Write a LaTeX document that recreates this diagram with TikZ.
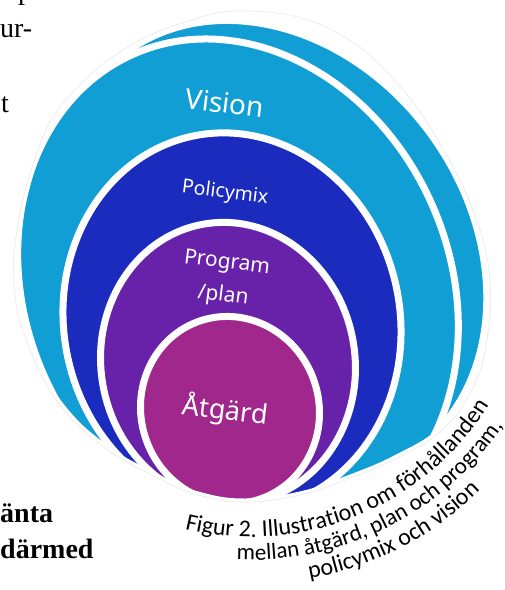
\documentclass[tikz,border=0pt]{standalone}
\usepackage{fontspec}
\usepackage{tikz}
\usetikzlibrary{decorations.text}
\setmainfont{Liberation Serif}
\newfontfamily\labelfont{Noto Sans}
\newfontfamily\capfont{Carlito}
\definecolor{visionblue}{RGB}{16,158,212}
\definecolor{policyblue}{RGB}{27,43,190}
\definecolor{planpurple}{RGB}{104,34,170}
\definecolor{actmagenta}{RGB}{160,40,140}
\newcommand{\figoutline}{plot[smooth cycle, tension=0.7] coordinates {(250,11) (330,29) (398,84) (449,160) (480,230) (490,285) (487,340) (473,388) (442,430) (397,458) (348,479) (300,495) (245,502) (198,495) (158,478) (105,448) (60,405) (31,352) (15,295) (17,230) (38,150) (66,100) (120,52) (185,22)}}

\begin{document}
\begin{tikzpicture}[x=1pt, y=-1pt,
    band/.style={fill=#1, draw=white, line width=7pt},
    lbl/.style={text=white, rotate=-7, align=center, inner sep=0pt},
    frag/.style={anchor=base west, inner sep=0pt, font=\fontsize{28}{34}\selectfont},
    captext/.style 2 args={decorate, decoration={text along path, text={|\capfont\fontsize{#1}{#1}\selectfont|#2}}}]
  \useasboundingbox (0,0) rectangle (505,590);
  \clip (0,0) rectangle (505,590);

  \begin{scope}
    \clip \figoutline;
    \path[band=visionblue, rotate around={36:(271,251)}] (271,251) ellipse [x radius=198, y radius=246];
    \path[band=visionblue, rotate around={24:(238,290)}] (238,290) ellipse [x radius=212, y radius=258];
    \path[band=policyblue, rotate around={12:(232,322)}] (232,322) ellipse [x radius=168, y radius=190];
    \path[band=planpurple, rotate around={10:(228,363)}] (228,363) ellipse [x radius=127, y radius=141];
    \path[band=actmagenta, rotate around={18:(230,410)}] (230,410) ellipse [x radius=89, y radius=94];
  \end{scope}
  \draw[white, line width=7pt] \figoutline;
  \draw[gray!18, line width=0.6pt] \figoutline;

  \node[lbl, font=\labelfont\fontsize{28}{30}\selectfont] (vision) at (225,103) {Vision};
  \node[lbl, font=\labelfont\fontsize{19.5}{22}\selectfont] (policy) at (225,193) {Policymix};
  \node[lbl, font=\labelfont\fontsize{21}{33}\selectfont] (plan) at (225,280) {Program\\/plan};
  \node[lbl, font=\labelfont\fontsize{27}{30}\selectfont] (act) at (225,411) {Åtgärd};

  \node[frag] (t1) at (18,-1) {p};
  \node[frag] (t2) at (0,37) {ur-};
  \node[frag] (t3) at (1,112) {t};
  \node[frag, font=\bfseries\fontsize{28}{34}\selectfont] (t4) at (0,522) {änta};
  \node[frag, font=\bfseries\fontsize{28}{34}\selectfont] (t5) at (0,558) {därmed};

  \coordinate (ctr) at (251,256);
  \path[captext={24}{Figur 2. Illustration om förhållanden}] ([shift={(103.6:281)}]ctr) arc[start angle=103.6, end angle=10, radius=281];
  \path[captext={23}{mellan åtgärd, plan och program,}] ([shift={(92.7:304)}]ctr) arc[start angle=92.7, end angle=0, radius=304];
  \path[captext={24}{policymix och vision}] ([shift={(79.7:328)}]ctr) arc[start angle=79.7, end angle=0, radius=328];
\end{tikzpicture}
\end{document}
